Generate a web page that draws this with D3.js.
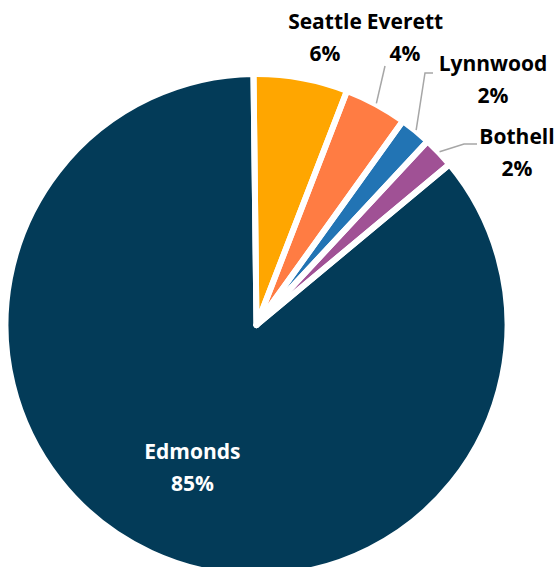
<!DOCTYPE html>
<html>
<head>
<meta charset="utf-8">
<script src="https://cdn.jsdelivr.net/npm/d3@7"></script>
<style>
  html, body { margin: 0; padding: 0; background: #fff; }
  svg { display: block; }
  text { font-family: "Open Sans", "Noto Sans", sans-serif; font-weight: 700; }
</style>
</head>
<body>
<svg id="chart" width="556" height="567"></svg>
<script>
// Share of respondents by city
const cities = ["Seattle", "Everett", "Lynnwood", "Bothell", "Edmonds"];
const shares = [6, 4, 2, 2, 85];
const colors = ["#ffa600", "#ff7c43", "#2274b4", "#a05195", "#033b58"];

// Layout for labels placed outside the pie (first-line baseline centre)
// and the bend / end points of their leader lines.
const outsideLabels = {
  Seattle:  { x: 325, y: 29,  leader: null },
  Everett:  { x: 405, y: 29,  leader: [[385, 66]] },
  Lynnwood: { x: 493, y: 71,  leader: [[425, 73], [433, 73]] },
  Bothell:  { x: 517, y: 144, leader: [[464, 144], [477, 144]] }
};

const width = 556, height = 567;
const cx = 256.5, cy = 325, R = 251;
const gap = 6;
const lineGap = 32;
const fontSize = 21;
const rotation = -0.012; // first slice begins just left of twelve o'clock

const data = cities.map((c, i) => ({ city: c, value: shares[i], color: colors[i] }));

const svg = d3.select("#chart");
const g = svg.append("g").attr("transform", `translate(${cx},${cy})`);

const pie = d3.pie().sort(null).value(d => d.value)
  .startAngle(rotation).endAngle(rotation + 2 * Math.PI);
const arcs = pie(data);
const arc = d3.arc().innerRadius(0).outerRadius(R);

// slice fills
g.selectAll("path.slice")
  .data(arcs)
  .join("path")
  .attr("class", "slice")
  .attr("d", arc)
  .attr("fill", d => d.data.color);

// white separators drawn on top so every gap is symmetric
g.selectAll("path.sep")
  .data(arcs)
  .join("path")
  .attr("class", "sep")
  .attr("d", arc)
  .attr("fill", "none")
  .attr("stroke", "#fff")
  .attr("stroke-width", gap)
  .attr("stroke-linejoin", "round");

// leader lines
const leaderArc = d3.arc().innerRadius(R + 1).outerRadius(R + 1);
arcs.forEach(a => {
  const lab = outsideLabels[a.data.city];
  if (!lab || !lab.leader) return;
  const [sx, sy] = leaderArc.centroid(a);
  const pts = [[sx + cx, sy + cy], ...lab.leader];
  svg.append("path")
    .attr("d", d3.line()(pts))
    .attr("fill", "none")
    .attr("stroke", "#a6a6a6")
    .attr("stroke-width", 1.5);
});

const pct = v => `${v}%`;

// outside labels
arcs.forEach(a => {
  const lab = outsideLabels[a.data.city];
  if (!lab) return;
  const t = svg.append("text")
    .attr("text-anchor", "middle")
    .attr("font-size", fontSize)
    .attr("fill", "#000");
  t.append("tspan").attr("x", lab.x).attr("y", lab.y).text(a.data.city);
  t.append("tspan").attr("x", lab.x).attr("y", lab.y + lineGap).text(pct(a.data.value));
});

// label inside the large slice
const big = arcs.find(a => a.data.city === "Edmonds");
const inner = d3.arc().innerRadius(R * 0.61).outerRadius(R * 0.61);
const [ix, iy] = inner.centroid(big);
const t = svg.append("text")
  .attr("text-anchor", "middle")
  .attr("font-size", fontSize)
  .attr("fill", "#fff");
t.append("tspan").attr("x", cx + ix).attr("y", cy + iy - 5).text(big.data.city);
t.append("tspan").attr("x", cx + ix).attr("y", cy + iy - 5 + lineGap).text(pct(big.data.value));
</script>
</body>
</html>
